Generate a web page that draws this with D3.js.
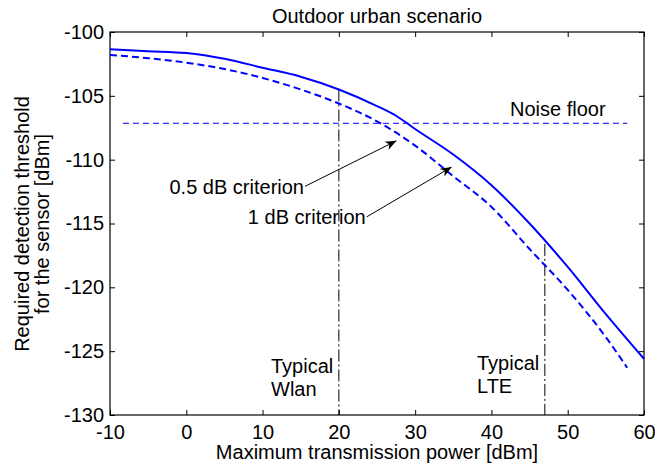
<!DOCTYPE html>
<html>
<head>
<meta charset="utf-8">
<script src="https://cdn.jsdelivr.net/npm/d3@7"></script>
<style>
  body { margin: 0; background: #fff; }
  svg text { font-family: "Liberation Sans", Arial, sans-serif; fill: #000; }
</style>
</head>
<body>
<svg></svg>
<script>
const svg = d3.select('svg')
    .attr('width', 655)
    .attr('height', 465)

// 0.5 dB criterion (solid)
const powerA = [-10, -5, 0, 5, 10, 15, 20, 25, 27.6, 30, 35, 40, 45, 50, 55, 60];
const thresholdA = [-101.35, -101.5, -101.65, -102.1, -102.8, -103.5, -104.5, -105.8, -106.6, -107.6, -109.6, -112.0, -115.0, -118.4, -122.1, -125.6];

// 1 dB criterion (dashed)
const powerB = [-10, -5, 0, 5, 10, 15, 20, 25, 30, 35, 40, 45, 50, 55, 57.8];
const thresholdB = [-101.8, -102.05, -102.4, -102.9, -103.6, -104.5, -105.6, -107.0, -108.9, -111.3, -113.7, -117.0, -120.2, -123.9, -126.3];

const noiseFloor = -107.15;
const noiseRange = [-8.3, 57.8];

const typicalPower = [20, 47];
const typicalTop = [-104.5, -116.6];
const typicalText = [['Typical', 'Wlan'], ['Typical', 'LTE']];

// arrows: [tailX, tailY, headX, headY]
const arrowText = ['0.5 dB criterion', '1 dB criterion'];
const arrowPts = [[15.56, -112.09, 27.55, -108.52], [23.65, -114.48, 34.79, -110.57]];

const xTicks = [-10, 0, 10, 20, 30, 40, 50, 60];
const yTicks = [-130, -125, -120, -115, -110, -105, -100];

const plotL = 110, plotR = 644, plotT = 32, plotB = 415;
const fontSize = '20px';

const x = d3.scaleLinear().domain([-10, 60]).range([plotL, plotR]);
const y = d3.scaleLinear().domain([-130, -100]).range([plotB, plotT]);

// plain hyphen for negatives, like the original
const fmt = d => String(d);

// axes (ticks inside, box style)
svg.append('g').attr('transform', `translate(${plotL},0)`)
    .call(d3.axisLeft(y).tickValues(yTicks).tickFormat(fmt).tickSize(-5).tickSizeOuter(0).tickPadding(6));
svg.append('g').attr('transform', `translate(0,${plotB})`)
    .call(d3.axisBottom(x).tickValues(xTicks).tickFormat(fmt).tickSize(-5).tickSizeOuter(0).tickPadding(10));
svg.append('g').attr('transform', `translate(${plotR},0)`)
    .call(d3.axisRight(y).tickValues(yTicks).tickSize(-5).tickSizeOuter(0).tickFormat(''));
svg.append('g').attr('transform', `translate(0,${plotT})`)
    .call(d3.axisTop(x).tickValues(xTicks).tickSize(-5).tickSizeOuter(0).tickFormat(''));

svg.selectAll('.domain').remove();
svg.selectAll('.tick line').attr('stroke', '#000');
svg.selectAll('.tick text')
    .style('font-size', fontSize)
    .attr('fill', '#000');

svg.append('rect')
    .attr('x', plotL)
    .attr('y', plotT)
    .attr('width', plotR - plotL)
    .attr('height', plotB - plotT)
    .attr('fill', 'none')
    .attr('stroke', '#000')
    .attr('stroke-width', 1.2);

// noise floor
svg.append('line')
    .attr('x1', x(noiseRange[0]))
    .attr('x2', x(noiseRange[1]))
    .attr('y1', y(noiseFloor))
    .attr('y2', y(noiseFloor))
    .attr('stroke', '#0000ff')
    .attr('stroke-width', 1)
    .attr('stroke-dasharray', '6,4');

// typical power lines
svg.selectAll('.typical')
    .data(typicalPower)
    .enter()
    .append('line')
    .attr('class', 'typical')
    .attr('x1', d => x(d))
    .attr('x2', d => x(d))
    .attr('y1', (d, i) => y(typicalTop[i]))
    .attr('y2', y(-130))
    .attr('stroke', '#000')
    .attr('stroke-width', 1)
    .attr('stroke-dasharray', '12,3,2,3');

const line = d3.line().curve(d3.curveMonotoneX).x(d => x(d[0])).y(d => y(d[1]));

svg.append('path')
    .datum(powerA.map((p, i) => [p, thresholdA[i]]))
    .attr('d', line)
    .attr('fill', 'none')
    .attr('stroke', '#0000ff')
    .attr('stroke-width', 2);

svg.append('path')
    .datum(powerB.map((p, i) => [p, thresholdB[i]]))
    .attr('d', line)
    .attr('fill', 'none')
    .attr('stroke', '#0000ff')
    .attr('stroke-width', 2)
    .attr('stroke-dasharray', '7,4');

// arrows
svg.append('defs').append('marker')
    .attr('id', 'head')
    .attr('markerUnits', 'userSpaceOnUse')
    .attr('viewBox', '-12 -6 14 12')
    .attr('refX', 0)
    .attr('refY', 0)
    .attr('markerWidth', 14)
    .attr('markerHeight', 12)
    .attr('orient', 'auto')
    .append('path')
    .attr('d', 'M0,0 L-11,-4.5 L-8,0 L-11,4.5 Z')
    .attr('fill', '#000');

svg.selectAll('.arrow')
    .data(arrowPts)
    .enter()
    .append('line')
    .attr('class', 'arrow')
    .attr('x1', d => x(d[0]))
    .attr('y1', d => y(d[1]))
    .attr('x2', d => x(d[2]))
    .attr('y2', d => y(d[3]))
    .attr('stroke', '#000')
    .attr('stroke-width', 1)
    .attr('marker-end', 'url(#head)');

svg.selectAll('.arrow-label')
    .data(arrowText)
    .enter()
    .append('text')
    .attr('x', (d, i) => x(arrowPts[i][0]) - 1)
    .attr('y', (d, i) => y(arrowPts[i][1]) + 7.5)
    .attr('text-anchor', 'end')
    .style('font-size', fontSize)
    .text(d => d);

// text labels
svg.append('text')
    .attr('x', 510)
    .attr('y', 116)
    .style('font-size', fontSize)
    .text('Noise floor');

const typX = [271, 477], typY = [373, 370];
typicalText.forEach((lines, i) => {
    lines.forEach((t, j) => {
        svg.append('text')
            .attr('x', typX[i])
            .attr('y', typY[i] + j * 23)
            .style('font-size', fontSize)
            .text(t);
    });
});

svg.append('text')
    .attr('x', (plotL + plotR) / 2)
    .attr('y', 23)
    .attr('text-anchor', 'middle')
    .style('font-size', fontSize)
    .text('Outdoor urban scenario');

svg.append('text')
    .attr('x', (plotL + plotR) / 2)
    .attr('y', 459)
    .attr('text-anchor', 'middle')
    .style('font-size', fontSize)
    .text('Maximum transmission power [dBm]');

const yLabel = ['Required detection threshold', 'for the sensor [dBm]'];
svg.selectAll('.ylab')
    .data(yLabel)
    .enter()
    .append('text')
    .attr('transform', (d, i) => `translate(${28.5 + i * 20},224) rotate(-90)`)
    .attr('text-anchor', 'middle')
    .style('font-size', fontSize)
    .text(d => d);
</script>
</body>
</html>
